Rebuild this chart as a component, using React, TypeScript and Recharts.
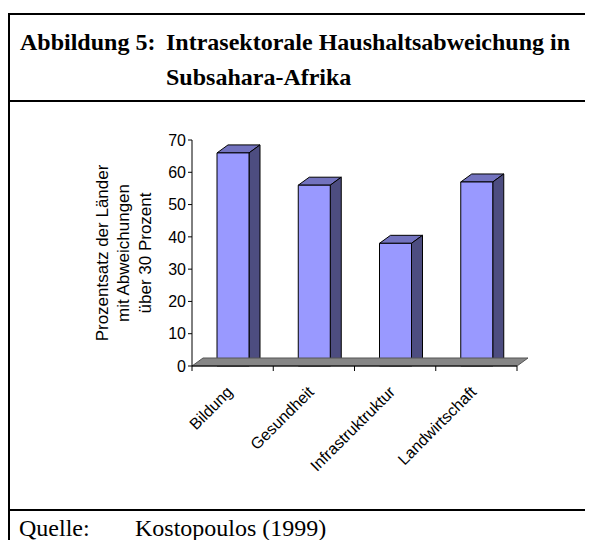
import React from "react";
import { BarChart, Bar, XAxis, YAxis, ReferenceLine } from "recharts";

const categories = ["Bildung", "Gesundheit", "Infrastruktruktur", "Landwirtschaft"];
const shares = [66, 56, 38, 57];
const yTicks = [0, 10, 20, 30, 40, 50, 60, 70];

const data = categories.map((name, i) => ({ name, value: shares[i] }));

const DX = 11;
const DY = 8;

function Bar3D(props: any) {
  const { x, y, width, height } = props;
  return (
    <g stroke="#000" strokeWidth={1} strokeLinejoin="round">
      <path
        d={`M${x},${y} L${x + DX},${y - DY} L${x + width + DX},${y - DY} L${x + width},${y} Z`}
        fill="#7373bf"
      />
      <path
        d={`M${x + width},${y} L${x + width + DX},${y - DY} L${x + width + DX},${y + height - DY} L${x + width},${y + height} Z`}
        fill="#4d4d80"
      />
      <rect x={x} y={y} width={width} height={height} fill="#9999ff" />
    </g>
  );
}

function Floor(props: any) {
  const { x1, y1, x2 } = props;
  return (
    <path
      d={`M${x1},${y1} L${x1 + DX},${y1 - DY} L${x2 + DX},${y1 - DY} L${x2},${y1} Z`}
      fill="#868686"
      stroke="#555"
      strokeWidth={1}
    />
  );
}

function XTick(props: any) {
  const { x, y, payload } = props;
  const off = payload.offset ?? 0;
  return (
    <g>
      {payload.index === 0 && (
        <line x1={x - off} y1={y} x2={x - off} y2={y + 5} stroke="#000" />
      )}
      <line x1={x + off} y1={y} x2={x + off} y2={y + 5} stroke="#000" />
      <text
        transform={`translate(${x + 1},${y + 27}) rotate(-45)`}
        textAnchor="end"
        fontSize={16}
        fill="#000"
      >
        {payload.value}
      </text>
    </g>
  );
}

function YTitle(props: any) {
  const vb = props.viewBox;
  const cy = vb.y + vb.height / 2;
  const lines = ["Prozentsatz der Länder", "mit Abweichungen", "über 30 Prozent"];
  const xs = [vb.x + 18, vb.x + 39, vb.x + 61];
  return (
    <g>
      {lines.map((t, i) => (
        <text
          key={t}
          transform={`translate(${xs[i]},${cy}) rotate(-90)`}
          textAnchor="middle"
          fontSize={17}
          fill="#000"
        >
          {t}
        </text>
      ))}
    </g>
  );
}

const serif = '"Liberation Serif", "Times New Roman", serif';
const titleStyle: React.CSSProperties = {
  position: "absolute",
  fontSize: 24,
  lineHeight: "24px",
  fontWeight: "bold",
  whiteSpace: "nowrap",
};
const sourceStyle: React.CSSProperties = {
  position: "absolute",
  fontSize: 24,
  lineHeight: "24px",
  whiteSpace: "nowrap",
};

export default function App() {
  return (
    <div style={{ position: "relative", width: 585, height: 532, overflow: "hidden", fontFamily: serif }}>
      <div style={{ position: "absolute", left: 0, top: 5, width: 620, height: 600, border: "2px solid #000", boxSizing: "border-box" }} />
      <div style={{ position: "absolute", left: 0, top: 92, width: 620, height: 2, background: "#000" }} />
      <div style={{ position: "absolute", left: 0, top: 501, width: 620, height: 2, background: "#000" }} />

      <div style={{ ...titleStyle, left: 12, top: 22 }}>Abbildung 5:</div>
      <div style={{ ...titleStyle, left: 158, top: 22 }}>Intrasektorale Haushaltsabweichung in</div>
      <div style={{ ...titleStyle, left: 158, top: 57 }}>Subsahara-Afrika</div>

      <div style={{ ...sourceStyle, left: 11, top: 508 }}>Quelle:</div>
      <div style={{ ...sourceStyle, left: 127, top: 508 }}>Kostopoulos (1999)</div>

      <div style={{ position: "absolute", left: 72, top: 102, fontFamily: '"Liberation Sans", Arial, sans-serif' }}>
        <BarChart
          width={480}
          height={390}
          data={data}
          margin={{ top: 30, right: 43, left: 10, bottom: 44 }}
          barSize={32}
        >
          <ReferenceLine y={0} shape={Floor} />
          <XAxis
            dataKey="name"
            interval={0}
            height={90}
            tickSize={0}
            tickMargin={0}
            tickLine={false}
            axisLine={{ stroke: "#000" }}
            tick={<XTick />}
          />
          <YAxis
            width={102}
            domain={[0, 70]}
            ticks={yTicks}
            interval={0}
            tickSize={4}
            tickMargin={2}
            axisLine={{ stroke: "#000" }}
            tickLine={{ stroke: "#000" }}
            tick={{ fill: "#000", fontSize: 16 }}
            label={{ content: (p: any) => <YTitle {...p} /> }}
          />
          <Bar dataKey="value" shape={Bar3D} isAnimationActive={false} />
        </BarChart>
      </div>
    </div>
  );
}
